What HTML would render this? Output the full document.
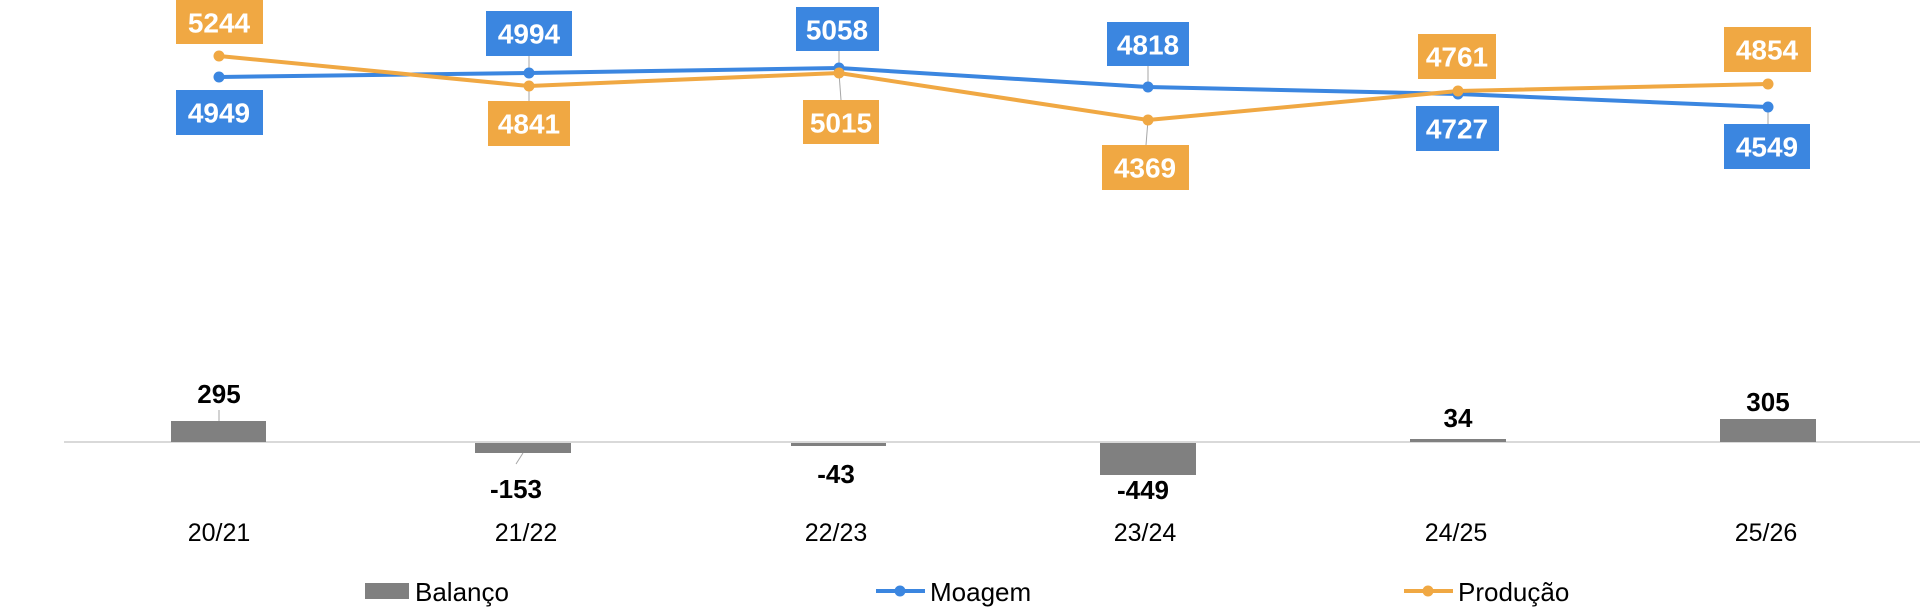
<!DOCTYPE html>
<html><head><meta charset="utf-8"><style>
html,body{margin:0;padding:0;background:#fff;}
svg{display:block}
text{font-family:"Liberation Sans",sans-serif;}
.bx{font-weight:bold;font-size:28px;fill:#fff;text-anchor:middle;dominant-baseline:central}
.bl{font-weight:bold;font-size:26px;fill:#000;text-anchor:middle;dominant-baseline:central}
.xl{font-size:25px;fill:#000;text-anchor:middle;dominant-baseline:central}
.lg{font-size:26px;fill:#000;dominant-baseline:central}
</style></head><body>
<svg width="1920" height="611" viewBox="0 0 1920 611" xmlns="http://www.w3.org/2000/svg">
<line x1="64" y1="442" x2="1920" y2="442" stroke="#d9d9d9" stroke-width="2"/>
<g fill="#808080">
<rect x="171" y="421" width="95" height="21"/>
<rect x="475" y="443" width="96" height="10"/>
<rect x="791" y="443" width="95" height="3"/>
<rect x="1100" y="443" width="96" height="32"/>
<rect x="1410" y="439" width="96" height="3"/>
<rect x="1720" y="419" width="96" height="23"/>
</g>
<g stroke="#a6a6a6" stroke-width="1">
<line x1="219" y1="410" x2="219" y2="421"/>
<line x1="523" y1="453" x2="516" y2="464"/>
<line x1="529" y1="56" x2="529" y2="73"/><line x1="529" y1="86" x2="529" y2="101"/>
<line x1="839" y1="51" x2="839" y2="68"/><line x1="839" y1="73" x2="841" y2="100"/>
<line x1="1148" y1="66" x2="1148" y2="87"/><line x1="1148" y1="120" x2="1146" y2="145"/>
<line x1="1768" y1="107" x2="1768" y2="124"/>
</g>
<polyline points="219,77 529,73 839,68 1148,87 1458,94 1768,107" fill="none" stroke="#3b86e0" stroke-width="4"/>
<polyline points="219,56 529,86 839,73 1148,120 1458,91 1768,84" fill="none" stroke="#f0a843" stroke-width="4"/>
<g fill="#3b86e0">
<circle cx="219" cy="77" r="5.5"/><circle cx="529" cy="73" r="5.5"/><circle cx="839" cy="68" r="5.5"/><circle cx="1148" cy="87" r="5.5"/><circle cx="1458" cy="94" r="5.5"/><circle cx="1768" cy="107" r="5.5"/>
</g>
<g fill="#f0a843">
<circle cx="219" cy="56" r="5.5"/><circle cx="529" cy="86" r="5.5"/><circle cx="839" cy="73" r="5.5"/><circle cx="1148" cy="120" r="5.5"/><circle cx="1458" cy="91" r="5.5"/><circle cx="1768" cy="84" r="5.5"/>
</g>
<g fill="#f0a843">
<rect x="176" y="0" width="87" height="44"/>
<rect x="488" y="101" width="82" height="45"/>
<rect x="803" y="100" width="76" height="44"/>
<rect x="1102" y="145" width="87" height="45"/>
<rect x="1418" y="34" width="78" height="45"/>
<rect x="1724" y="27" width="87" height="45"/>
</g>
<g fill="#3b86e0">
<rect x="176" y="90" width="87" height="45"/>
<rect x="486" y="11" width="86" height="45"/>
<rect x="796" y="7" width="83" height="44"/>
<rect x="1107" y="22" width="82" height="44"/>
<rect x="1416" y="106" width="83" height="45"/>
<rect x="1724" y="124" width="86" height="45"/>
</g>
<text class="bx" x="219" y="23">5244</text>
<text class="bx" x="529" y="124">4841</text>
<text class="bx" x="841" y="123">5015</text>
<text class="bx" x="1145" y="168">4369</text>
<text class="bx" x="1457" y="57">4761</text>
<text class="bx" x="1767" y="50">4854</text>
<text class="bx" x="219" y="113">4949</text>
<text class="bx" x="529" y="34">4994</text>
<text class="bx" x="837" y="30">5058</text>
<text class="bx" x="1148" y="45">4818</text>
<text class="bx" x="1457" y="129">4727</text>
<text class="bx" x="1767" y="147">4549</text>
<text class="bl" x="219" y="394">295</text>
<text class="bl" x="516" y="489">-153</text>
<text class="bl" x="836" y="474">-43</text>
<text class="bl" x="1143" y="490">-449</text>
<text class="bl" x="1458" y="418">34</text>
<text class="bl" x="1768" y="402">305</text>
<text class="xl" x="219" y="533">20/21</text>
<text class="xl" x="526" y="533">21/22</text>
<text class="xl" x="836" y="533">22/23</text>
<text class="xl" x="1145" y="533">23/24</text>
<text class="xl" x="1456" y="533">24/25</text>
<text class="xl" x="1766" y="533">25/26</text>
<rect x="365" y="583" width="44" height="16" fill="#808080"/>
<text class="lg" x="415" y="592">Balanço</text>
<line x1="876" y1="591" x2="925" y2="591" stroke="#3b86e0" stroke-width="4"/><circle cx="900" cy="591" r="5.5" fill="#3b86e0"/>
<text class="lg" x="930" y="592">Moagem</text>
<line x1="1404" y1="591" x2="1453" y2="591" stroke="#f0a843" stroke-width="4"/><circle cx="1428" cy="591" r="5.5" fill="#f0a843"/>
<text class="lg" x="1458" y="592">Produção</text>
</svg>
</body></html>
